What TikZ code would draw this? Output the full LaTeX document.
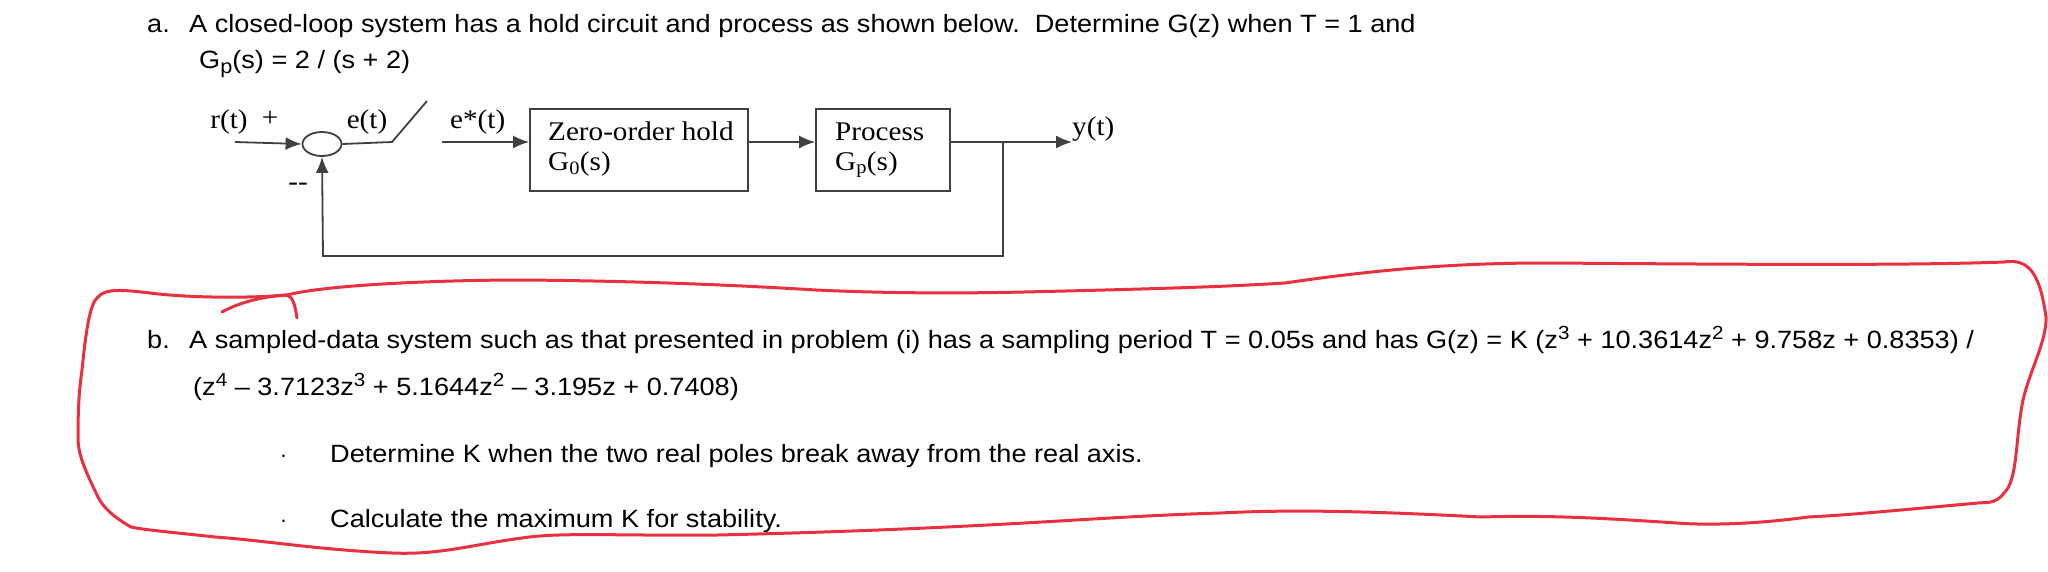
\documentclass[tikz,border=0pt]{standalone}
\usepackage{fontspec}
\setmainfont{Liberation Sans}[FakeStretch=1.085]
\newfontfamily\serifd{Liberation Serif}[FakeStretch=1.08]
\usetikzlibrary{arrows.meta,shapes.geometric}
\newcommand{\supx}[1]{\raisebox{9pt}{\fontsize{19}{19}\selectfont #1}}
\newcommand{\subx}[1]{\raisebox{-5pt}{\fontsize{20}{20}\selectfont #1}}
\begin{document}
\begin{tikzpicture}[x=1pt,y=-1pt,
  txt/.style={anchor=base west,inner sep=0pt,font=\fontsize{25}{30}\selectfont},
  dtxt/.style={anchor=base west,inner sep=0pt,font=\serifd\fontsize{27}{30}\selectfont},
  blk/.style={draw=black!75,line width=1.8pt,minimum height=82pt,inner sep=0pt},
  wire/.style={draw=black!75,line width=1.8pt},
  arr/.style={wire,-{Latex[length=16pt,width=13pt]}},
  redline/.style={draw={rgb,255:red,232;green,48;blue,62},line width=3pt,line cap=round,line join=round}]
\useasboundingbox (0,0) rectangle (2048,571);
% texts
\node[txt] (a1) at (147,32) {a.};
\node[txt] (a2) at (189,32) {A closed-loop system has a hold circuit and process as shown below.\ \ Determine G(z) when T = 1 and};
\node[txt] (a3) at (199,68) {G\subx{p}(s) = 2 / (s + 2)};
\node[txt] (b1) at (147,348) {b.};
\node[txt] (b2) at (189,348) {A sampled-data system such as that presented in problem (i) has a sampling period T = 0.05s and has G(z) = K (z\supx{3} + 10.3614z\supx{2} + 9.758z + 0.8353) /};
\node[txt] (b3) at (193,395) {(z\supx{4} -- 3.7123z\supx{3} + 5.1644z\supx{2} -- 3.195z + 0.7408)};
\node[txt] (d1) at (280,462) {$\cdot$};
\node[txt] (c1) at (330,462) {Determine K when the two real poles break away from the real axis.};
\node[txt] (d2) at (280,527) {$\cdot$};
\node[txt] (c2) at (330,527) {Calculate the maximum K for stability.};
% block diagram
\node[ellipse,draw=black!75,line width=1.8pt,minimum width=39pt,minimum height=24pt,inner sep=0pt] (sum) at (322,144) {};
\node[blk,minimum width=218pt] (zoh) at (639,150) {};
\node[blk,minimum width=134pt] (proc) at (883,150) {};
\node[dtxt] (zt1) at (548,140) {Zero-order hold};
\node[dtxt] (zt2) at (548,170) {G\textsubscript{0}(s)};
\node[dtxt] (pt1) at (835,140) {Process};
\node[dtxt] (pt2) at (835,170) {G\textsubscript{p}(s)};
\node[dtxt,anchor=base] (rt) at (229,128) {r(t)};
\node[dtxt,anchor=base] (pl) at (270,126) {+};
\node[dtxt,anchor=base] (et) at (367,128) {e(t)};
\node[dtxt,anchor=base west] (est) at (450,128) {e*(t)};
\node[dtxt,anchor=base west] (yt) at (1072,135) {y(t)};
\node[dtxt,anchor=base] (mn) at (298,190) {--};
\coordinate (in) at (235,142);
\coordinate (sw1) at (392,142);
\coordinate (sw2) at (427,101);
\coordinate (es) at (442,142);
\coordinate (jn) at (1003,142);
\coordinate (out) at (1072,142);
\coordinate (fb1) at (1003,256);
\coordinate (fb2) at (323,256);
\draw[arr] (in) -- (sum.west);
\draw[wire] (sum.east) -- (sw1) -- (sw2);
\draw[arr] (es) -- (zoh.west |- es);
\draw[arr] (zoh.east |- es) -- (proc.west |- es);
\draw[arr] (proc.east |- es) -- (out);
\draw[arr] (jn) -- (fb1) -- (fb2) -- (sum.south);
% red hand-drawn loop
\draw[redline] (98,297) .. controls (105,288) and (125,290) .. (150,293)
  .. controls (180,297) and (240,299) .. (287,295)
  .. controls (330,284) and (450,280) .. (522,280)
  .. controls (650,281) and (750,286) .. (816,290)
  .. controls (900,294) and (980,293) .. (1024,292)
  .. controls (1150,289) and (1220,287) .. (1285,283)
  .. controls (1400,266) and (1480,263) .. (1547,263)
  .. controls (1700,264) and (1900,266) .. (2004,262)
  .. controls (2030,258) and (2040,275) .. (2046,317)
  .. controls (2047,340) and (2030,370) .. (2023,400)
  .. controls (2015,440) and (2018,480) .. (2004,493)
  .. controls (1995,505) and (1985,502) .. (1978,503)
  .. controls (1900,510) and (1850,515) .. (1808,517)
  .. controls (1750,525) and (1700,525) .. (1677,523)
  .. controls (1600,518) and (1550,515) .. (1481,517)
  .. controls (1350,510) and (1280,510) .. (1220,513)
  .. controls (1150,515) and (1080,520) .. (1024,523)
  .. controls (900,530) and (800,533) .. (718,535)
  .. controls (620,536) and (560,532) .. (522,538)
  .. controls (470,545) and (440,555) .. (392,553)
  .. controls (320,550) and (260,540) .. (215,537)
  .. controls (170,532) and (145,530) .. (131,527)
  .. controls (110,515) and (102,505) .. (98,497)
  .. controls (85,470) and (78,455) .. (78,437)
  .. controls (78,400) and (80,385) .. (82,370)
  .. controls (86,330) and (90,303) .. (98,297);
\draw[redline] (222,312) .. controls (240,302) and (265,296) .. (287,295)
  .. controls (293,297) and (295,305) .. (297,318);
\end{tikzpicture}
\end{document}
